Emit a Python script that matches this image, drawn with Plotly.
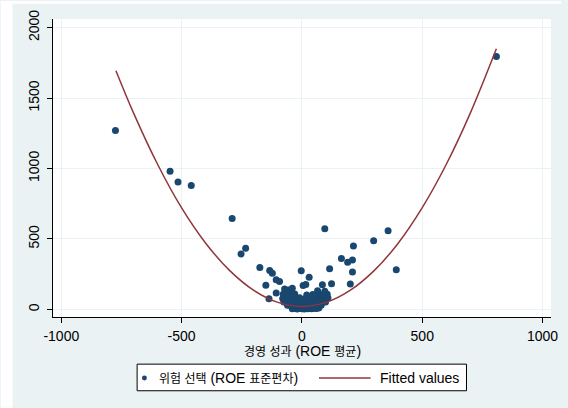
import plotly.graph_objects as go

# Risk-taking (std. dev. of ROE) versus performance (mean ROE) per firm
roe_mean = [
    -775, -548, -515, -460, -290, -234, -253, -175, -134, -123, -107, -93,
    -150, -107, -137, -3, 30, 95, 5, 16, 85, 123, 115, 164, 190, 210, 214,
    298, 358, 392, 210, 201, 808,
    # dense group around zero
    -40, -30, -20, -12, -5, 0, 5, 10, 18, 25, 32, 40, 50, 60, 70,
    -60, -48, -35, -25, -15, -8, 2, 8, 15, 22, 30, 38, 48, 58, 68, 80,
    -75, -62, -50, -40, -28, -18, -6, 4, 14, 28, 42, 55, 70, 85, 98,
    -80, -66, -52, -38, -22, -10, 12, 30, 48, 64, 80, 95, 108,
    -78, -60, -45, -30, 20, 45, 70, 90, 105,
    -72, -55, -40, 65, 95,
]
roe_sd = [
    1270, 980, 905, 879, 645, 434, 394, 297, 276, 257, 210, 198,
    172, 116, 76, 275, 228, 572, 170, 177, 175, 182, 288, 362, 335, 350, 450,
    488, 558, 281, 266, 181, 1795,
    5, 8, 3, 10, 6, 4, 9, 2, 7, 5, 10, 4, 8, 6, 10,
    30, 28, 33, 25, 35, 27, 32, 26, 30, 34, 28, 31, 27, 33, 29, 30,
    52, 48, 55, 47, 58, 50, 46, 54, 49, 57, 51, 48, 55, 50, 52,
    78, 72, 80, 75, 70, 82, 76, 73, 79, 71, 77, 74, 80,
    108, 112, 104, 110, 102, 106, 111, 104, 108,
    145, 138, 150, 132, 128,
]

# Quadratic fitted values along the observed range of mean ROE
fit_x = [-773, -700, -600, -500, -400, -300, -200, -100, 0,
         100, 200, 300, 400, 500, 600, 700, 808]
fit_y = [1694, 1395, 1030, 720, 470, 275, 135, 50, 21,
         50, 135, 275, 470, 722, 1030, 1395, 1850]

x_ticks = [-1000, -500, 0, 500, 1000]
y_ticks = [0, 500, 1000, 1500, 2000]

x_title = "경영 성과 (ROE 평균)"
legend_scatter = "위험 선택 (ROE 표준편차)"
legend_fit = "Fitted values"

NAVY = "#1A476F"
MAROON = "#90353B"
BG = "#EAF2F3"
FONT = "Liberation Sans, Arial, Noto Sans CJK KR, sans-serif"

fig = go.Figure()
fig.add_trace(go.Scatter(
    x=roe_mean, y=roe_sd, mode="markers",
    marker=dict(color=NAVY, size=7, line=dict(width=0)),
    showlegend=False,
))
fig.add_trace(go.Scatter(
    x=fit_x, y=fit_y, mode="lines",
    line=dict(color=MAROON, width=1.5, shape="spline"),
    showlegend=False,
))

W, H = 568, 408
L, R, T, B = 53, 10, 18, 91
pw, ph = W - L - R, H - T - B


def px(xp):
    return (xp - L) / pw


def py(yp):
    return (H - B - yp) / ph


axis_common = dict(
    showline=True, linecolor="black", linewidth=1,
    ticks="outside", ticklen=5, tickwidth=1, tickcolor="black",
    showgrid=True, gridcolor=BG, gridwidth=1,
    zeroline=False, mirror=False,
    tickfont=dict(family=FONT, size=14, color="black"),
)

fig.update_layout(
    width=W, height=H,
    margin=dict(l=L, r=R, t=T, b=B),
    paper_bgcolor=BG, plot_bgcolor="white",
    xaxis=dict(range=[-1034.5, 1035], tickvals=x_ticks,
               ticktext=[str(v) for v in x_ticks], ticklabelstandoff=1,
               **axis_common),
    yaxis=dict(range=[-54, 2061], tickvals=y_ticks,
               ticktext=[str(v) for v in y_ticks], tickangle=-90,
               ticklabelstandoff=2, **axis_common),
    showlegend=False,
)

shapes = [
    # white margin strips around the graph region
    dict(type="rect", xref="paper", yref="paper",
         x0=px(0), x1=px(12), y0=py(H), y1=py(0),
         fillcolor="white", line=dict(width=0), layer="below"),
    dict(type="rect", xref="paper", yref="paper",
         x0=px(0), x1=px(W), y0=py(3), y1=py(0),
         fillcolor="white", line=dict(width=0), layer="below"),
    # legend box
    dict(type="rect", xref="paper", yref="paper",
         x0=px(138.3), x1=px(472.3), y0=py(391), y1=py(364.3),
         fillcolor="white", line=dict(color="black", width=1)),
    # legend marker
    dict(type="circle", xref="paper", yref="paper",
         x0=px(143.2), x1=px(148.2), y0=py(380.8), y1=py(375.8),
         fillcolor=NAVY, line=dict(width=0)),
    # legend line sample
    dict(type="line", xref="paper", yref="paper",
         x0=px(322.7), x1=px(375), y0=py(378.3), y1=py(378.3),
         line=dict(color=MAROON, width=1.5)),
]
fig.update_layout(shapes=shapes)

ko = '<span style="font-size:12px">{}</span>'
fig.add_annotation(
    x=px(305.5), y=py(351.5), xref="paper", yref="paper",
    xanchor="center", yanchor="middle", showarrow=False,
    text=ko.format("경영 성과") + " (ROE " + ko.format("평균") + ")",
    font=dict(family=FONT, size=14, color="black"),
    borderpad=0,
)
fig.add_annotation(
    x=px(158), y=py(378.3), xref="paper", yref="paper",
    xanchor="left", yanchor="middle", showarrow=False,
    text=ko.format("위험 선택") + " (ROE " + ko.format("표준편차") + ")",
    font=dict(family=FONT, size=14, color="black"),
)
fig.add_annotation(
    x=px(383), y=py(378.3), xref="paper", yref="paper",
    xanchor="left", yanchor="middle", showarrow=False,
    text=legend_fit,
    font=dict(family=FONT, size=14, color="black"),
)

fig.write_html("out.html")
